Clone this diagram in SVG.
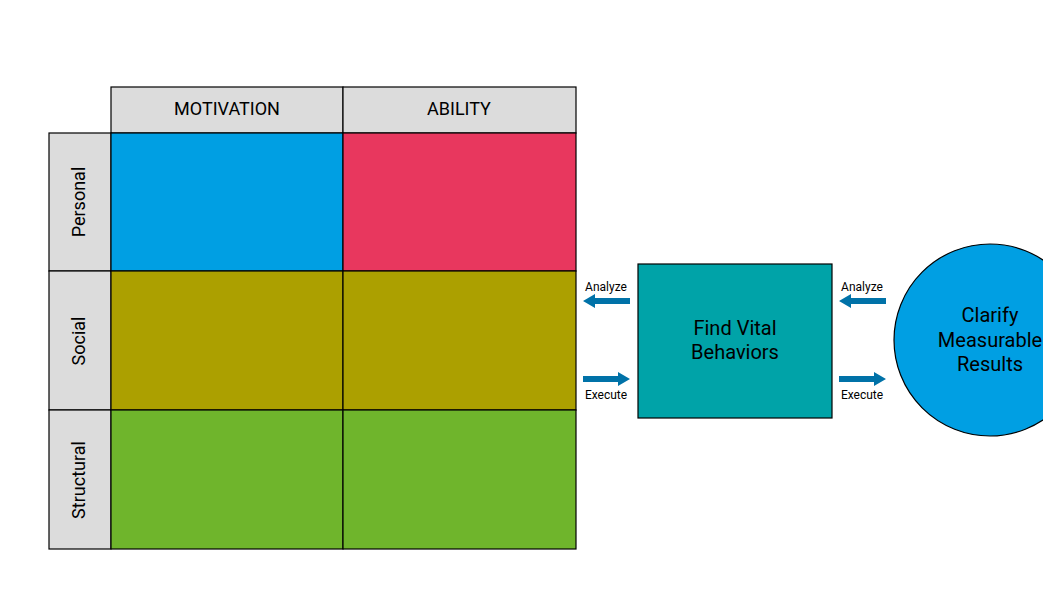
<svg xmlns="http://www.w3.org/2000/svg" width="1058" height="597" viewBox="0 0 1058 597">
<style>
.c{stroke:#000;stroke-width:1.2}
.h{fill:#dcdcdc}
.t{font-family:Roboto,"Liberation Sans",sans-serif;fill:#000}
.a{fill:#0072a8}
</style>
<defs><clipPath id="cp"><rect x="0" y="0" width="1043" height="597"/></clipPath></defs>
<rect width="1058" height="597" fill="#fff"/>
<g id="hdr-motivation"><rect class="c h" x="111" y="87" width="232" height="46"/><text class="t" x="227" y="115" font-size="18" text-anchor="middle">MOTIVATION</text></g>
<g id="hdr-ability"><rect class="c h" x="343" y="87" width="233" height="46"/><text class="t" x="459" y="115" font-size="18" text-anchor="middle">ABILITY</text></g>
<g id="row-personal"><rect class="c h" x="49" y="133" width="62" height="138"/><text class="t" font-size="18" text-anchor="middle" transform="translate(85 202) rotate(-90)">Personal</text></g>
<g id="row-social"><rect class="c h" x="49" y="271" width="62" height="139"/><text class="t" font-size="18" text-anchor="middle" transform="translate(85 341) rotate(-90)">Social</text></g>
<g id="row-structural"><rect class="c h" x="49" y="410" width="62" height="139"/><text class="t" font-size="18" text-anchor="middle" transform="translate(85 480) rotate(-90)">Structural</text></g>
<g id="cells">
<rect class="c" x="111" y="133" width="232" height="138" fill="#009fe3"/>
<rect class="c" x="343" y="133" width="233" height="138" fill="#e8375e"/>
<rect class="c" x="111" y="271" width="232" height="139" fill="#aca000"/>
<rect class="c" x="343" y="271" width="233" height="139" fill="#aca000"/>
<rect class="c" x="111" y="410" width="232" height="139" fill="#6fb52c"/>
<rect class="c" x="343" y="410" width="233" height="139" fill="#6fb52c"/>
</g>
<g id="find-vital"><rect class="c" x="638" y="264" width="194" height="154" fill="#00a3a8"/><text class="t" font-size="20" text-anchor="middle"><tspan x="735" y="335">Find Vital</tspan><tspan x="735" y="359">Behaviors</tspan></text></g>
<g id="clarify" clip-path="url(#cp)"><circle class="c" cx="990" cy="340" r="96" fill="#009fe3"/><text class="t" font-size="20" text-anchor="middle"><tspan x="990" y="322">Clarify</tspan><tspan x="990" y="347">Measurable</tspan><tspan x="990" y="371">Results</tspan></text></g>
<g id="connectors">
<path class="a" d="M630 298H595V294L583 301L595 308V304H630Z"/>
<path class="a" d="M583 376H618V372L630 379L618 386V382H583Z"/>
<path class="a" d="M886 298H851V294L839 301L851 308V304H886Z"/>
<path class="a" d="M839 376H874V372L886 379L874 386V382H839Z"/>
<text class="t" font-size="12" text-anchor="middle" x="606" y="291">Analyze</text>
<text class="t" font-size="12" text-anchor="middle" x="606" y="399">Execute</text>
<text class="t" font-size="12" text-anchor="middle" x="862" y="291">Analyze</text>
<text class="t" font-size="12" text-anchor="middle" x="862" y="399">Execute</text>
</g>
</svg>
